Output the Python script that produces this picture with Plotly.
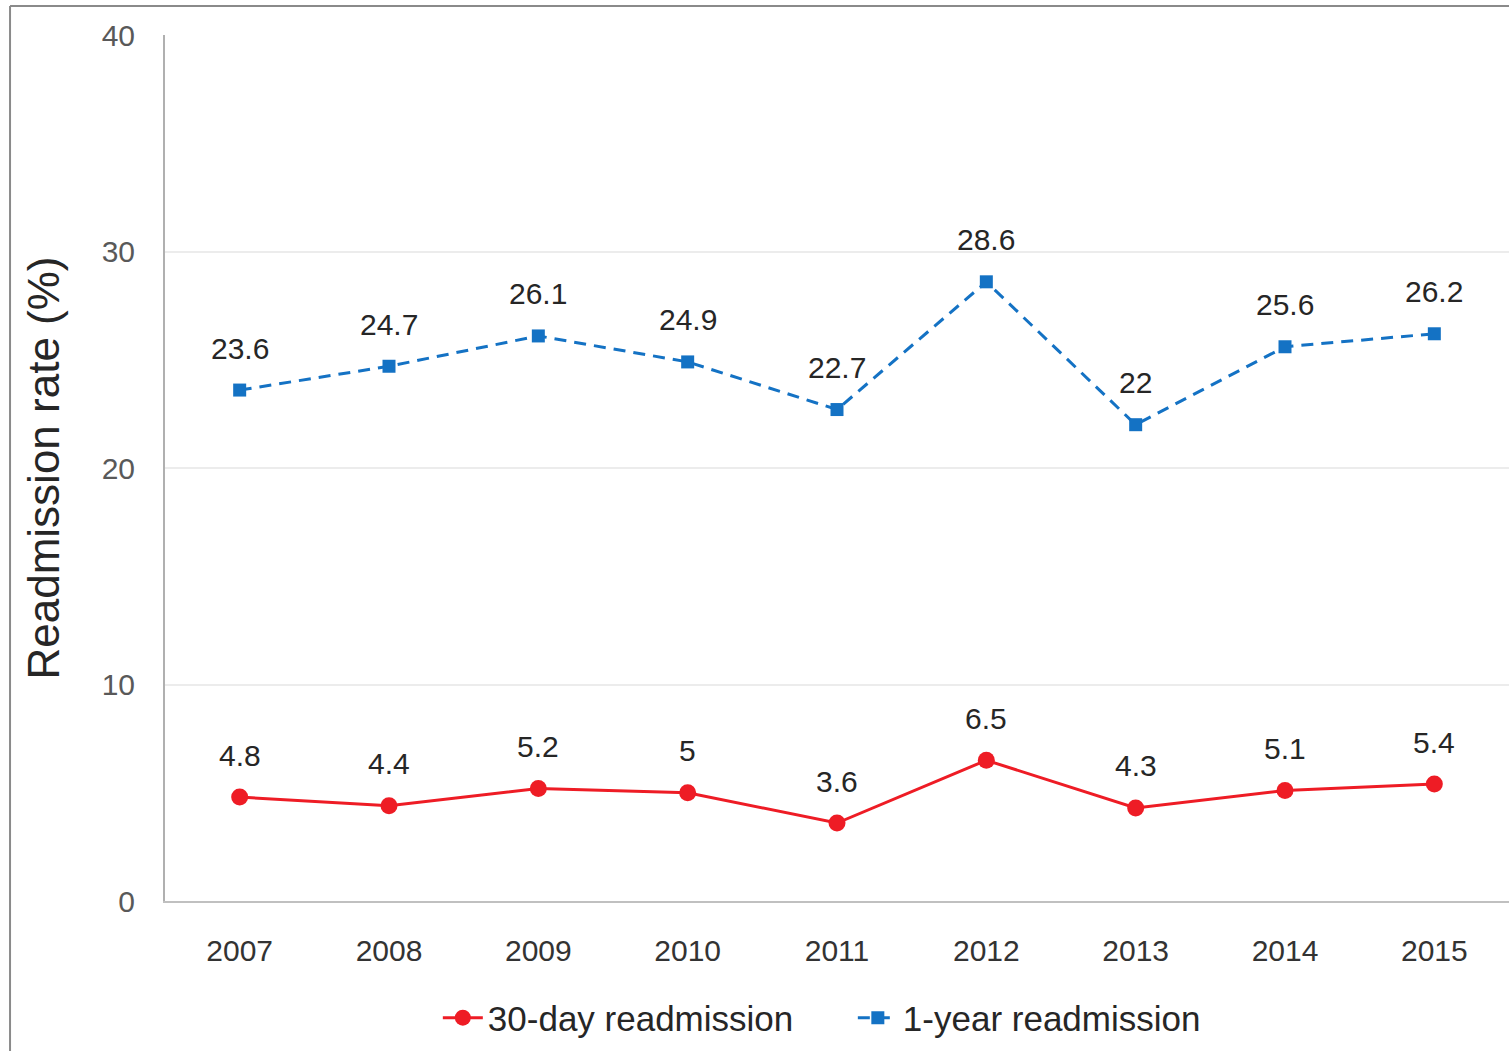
import plotly.graph_objects as go

years = ["2007", "2008", "2009", "2010", "2011", "2012", "2013", "2014", "2015"]
day30 = [4.8, 4.4, 5.2, 5.0, 3.6, 6.5, 4.3, 5.1, 5.4]
year1 = [23.6, 24.7, 26.1, 24.9, 22.7, 28.6, 22.0, 25.6, 26.2]
day30_labels = ["4.8", "4.4", "5.2", "5", "3.6", "6.5", "4.3", "5.1", "5.4"]
year1_labels = ["23.6", "24.7", "26.1", "24.9", "22.7", "28.6", "22", "25.6", "26.2"]
y_ticks = [0, 10, 20, 30, 40]

RED = "#EE1C25"
BLUE = "#1472C4"
FONT = "Liberation Sans, Arial, sans-serif"

fig = go.Figure()
fig.add_trace(go.Scatter(
    x=years, y=day30, mode="lines+markers", name="30-day readmission",
    line=dict(color=RED, width=3),
    marker=dict(symbol="circle", size=17, color=RED),
))
fig.add_trace(go.Scatter(
    x=years, y=year1, mode="lines+markers", name="1-year readmission",
    line=dict(color=BLUE, width=3, dash="12px,8px"),
    marker=dict(symbol="square", size=13, color=BLUE),
))

annos = []
for ys, labs in [(day30, day30_labels), (year1, year1_labels)]:
    for i, (y, t) in enumerate(zip(ys, labs)):
        annos.append(dict(x=i, y=y, xref="x", yref="y", text=t, showarrow=False, yshift=42,
                          font=dict(size=30, color="#262626", family=FONT)))

fig.update_layout(
    width=1509, height=1051,
    margin=dict(l=165, r=0, t=35, b=150),
    paper_bgcolor="white", plot_bgcolor="white",
    font=dict(family=FONT),
    showlegend=True,
    legend=dict(orientation="h", x=0.203, xanchor="left", y=-0.135, yanchor="middle",
                font=dict(size=35, color="#262626", family=FONT),
                bgcolor="rgba(0,0,0,0)", itemwidth=40, entrywidth=360),
    annotations=annos,
    xaxis=dict(type="category", range=[-0.5, 8.5], showgrid=False,
               showline=True, linecolor="#c0c0c0", linewidth=2,
               ticks="", tickfont=dict(size=30, color="#333333", family=FONT),
               ticklabelstandoff=22),
    yaxis=dict(range=[0, 40], tickvals=y_ticks, showgrid=True, gridcolor="#ececec", gridwidth=1.5,
               showline=True, linecolor="#b0b0b0", linewidth=2, zeroline=False,
               ticks="", tickfont=dict(size=30, color="#595959", family=FONT),
               ticklabelstandoff=22,
               title=dict(text="Readmission rate (%)", font=dict(size=44, color="#262626", family=FONT),
                          standoff=28)),
    shapes=[
        dict(type="line", xref="paper", yref="paper", x0=-0.1153, x1=-0.1153, y0=1.0335, y1=-0.2,
             line=dict(color="#8a8a8a", width=2)),
        dict(type="line", xref="paper", yref="paper", x0=-0.1153, x1=1.0, y0=1.0335, y1=1.0335,
             line=dict(color="#8a8a8a", width=2)),
    ],
)

fig.write_html("out.html")
